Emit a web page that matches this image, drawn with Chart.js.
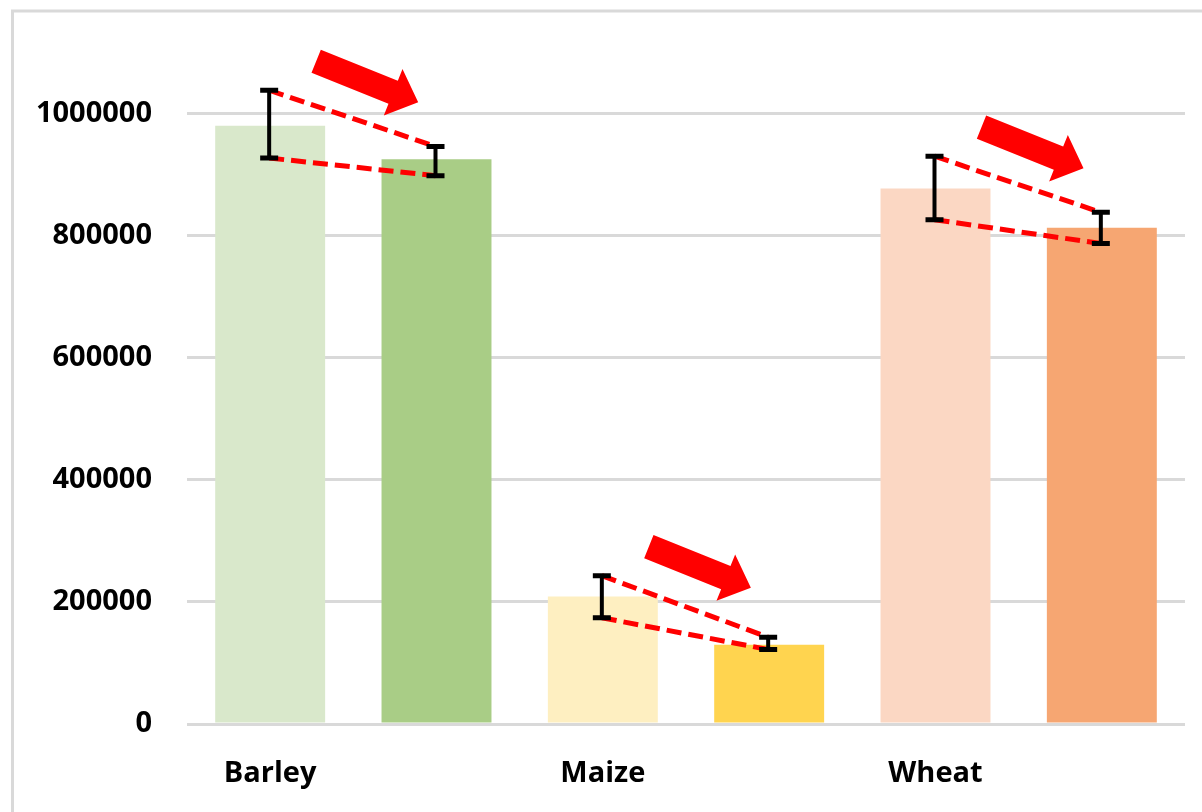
<!DOCTYPE html>
<html>
<head>
<meta charset="utf-8">
<script src="https://cdn.jsdelivr.net/npm/chart.js@4"></script>
<style>
  html, body { margin: 0; padding: 0; background: #ffffff; }
  #wrap { position: relative; width: 1202px; height: 812px; }
</style>
</head>
<body>
<div id="wrap"><canvas id="c" width="1202" height="812"></canvas></div>
<script>
// ---- data ----
const categories = ['Barley', 'Maize', 'Wheat'];
const firstValues = [980000, 209000, 877000];
const secondValues = [925000, 130000, 813000];
const firstErrLow = [927000, 174000, 826000];
const firstErrHigh = [1038000, 243000, 930000];
const secondErrLow = [898000, 122000, 787000];
const secondErrHigh = [946000, 142000, 838000];
const yTickValues = [0, 200000, 400000, 600000, 800000, 1000000];

// ---- styles ----
const firstColors = ['#D9E8CB', '#FEEFC1', '#FBD7C3'];
const secondColors = ['#A9CD86', '#FFD44F', '#F6A672'];
const FONT = '"Open Sans", "Noto Sans", sans-serif';

// build slot table (two bars per category, label under first bar)
const slotLabels = [];
const slotValues = [];
const slotColors = [];
categories.forEach((c, i) => {
  slotLabels.push(c, '');
  slotValues.push(firstValues[i], secondValues[i]);
  slotColors.push(firstColors[i], secondColors[i]);
});

const framePlugin = {
  id: 'frame',
  beforeDraw(chart) {
    const ctx = chart.ctx;
    ctx.save();
    ctx.strokeStyle = '#D9D9D9';
    ctx.lineWidth = 3;
    ctx.beginPath();
    ctx.moveTo(12.5, chart.height + 5);
    ctx.lineTo(12.5, 11);
    ctx.lineTo(chart.width + 5, 11);
    ctx.stroke();
    ctx.restore();
  }
};

const annotPlugin = {
  id: 'annot',
  afterDatasetsDraw(chart) {
    const ctx = chart.ctx;
    const meta = chart.getDatasetMeta(0);
    const y = chart.scales.y;
    ctx.save();
    categories.forEach((c, i) => {
      const xA = meta.data[2 * i].x - 1;
      const xB = meta.data[2 * i + 1].x - 1;
      const aHi = y.getPixelForValue(firstErrHigh[i]);
      const aLo = y.getPixelForValue(firstErrLow[i]);
      const bHi = y.getPixelForValue(secondErrHigh[i]);
      const bLo = y.getPixelForValue(secondErrLow[i]);

      // dashed connectors
      ctx.strokeStyle = '#FF0000';
      ctx.lineWidth = 5;
      ctx.setLineDash([15, 7]);
      ctx.beginPath();
      ctx.moveTo(xA, aHi); ctx.lineTo(xB, bHi);
      ctx.moveTo(xA, aLo); ctx.lineTo(xB, bLo);
      ctx.stroke();
      ctx.setLineDash([]);

      // error bars
      ctx.strokeStyle = '#000000';
      [[xA, aHi, aLo], [xB, bHi, bLo]].forEach(([x, hi, lo]) => {
        ctx.lineWidth = 4;
        ctx.beginPath();
        ctx.moveTo(x, hi); ctx.lineTo(x, lo);
        ctx.stroke();
        ctx.lineWidth = 5;
        ctx.beginPath();
        ctx.moveTo(x - 9, hi); ctx.lineTo(x + 9, hi);
        ctx.moveTo(x - 9, lo); ctx.lineTo(x + 9, lo);
        ctx.stroke();
      });

      // block arrow
      const tx = xA + 47, ty = aHi - 29;
      const ang = Math.atan2(40.5, 100.5);
      const shaft = 83, head = 27, hw = 12.5, hh = 25;
      ctx.save();
      ctx.translate(tx, ty);
      ctx.rotate(ang);
      ctx.fillStyle = '#FF0000';
      ctx.beginPath();
      ctx.moveTo(0, -hw);
      ctx.lineTo(shaft, -hw);
      ctx.lineTo(shaft, -hh);
      ctx.lineTo(shaft + head, 0);
      ctx.lineTo(shaft, hh);
      ctx.lineTo(shaft, hw);
      ctx.lineTo(0, hw);
      ctx.closePath();
      ctx.fill();
      ctx.restore();
    });
    ctx.restore();
  }
};

new Chart(document.getElementById('c'), {
  type: 'bar',
  data: {
    labels: slotLabels,
    datasets: [{
      data: slotValues,
      backgroundColor: slotColors,
      borderWidth: 0,
      barPercentage: 0.661,
      categoryPercentage: 1.0
    }]
  },
  options: {
    responsive: false,
    animation: false,
    layout: { padding: { left: 0, right: 17, top: 52, bottom: 0 } },
    plugins: { legend: { display: false }, tooltip: { enabled: false } },
    scales: {
      x: {
        grid: { display: false, drawTicks: false },
        border: { display: false },
        ticks: {
          color: '#000000',
          font: { family: FONT, size: 29, weight: '700' },
          padding: 32,
          maxRotation: 0,
          autoSkip: false
        },
        afterFit(s) { s.height = 88; }
      },
      y: {
        min: 0,
        max: 1100000,
        grid: { color: '#D9D9D9', lineWidth: 3, drawTicks: false },
        border: { display: false },
        afterBuildTicks(s) {
          s.ticks = yTickValues.map(v => ({ value: v }));
        },
        ticks: {
          color: '#000000',
          font: { family: FONT, size: 29, weight: '700' },
          padding: 35,
          callback: v => String(v)
        },
        afterFit(s) { s.width = 187; }
      }
    }
  },
  plugins: [framePlugin, annotPlugin]
});
</script>
</body>
</html>
